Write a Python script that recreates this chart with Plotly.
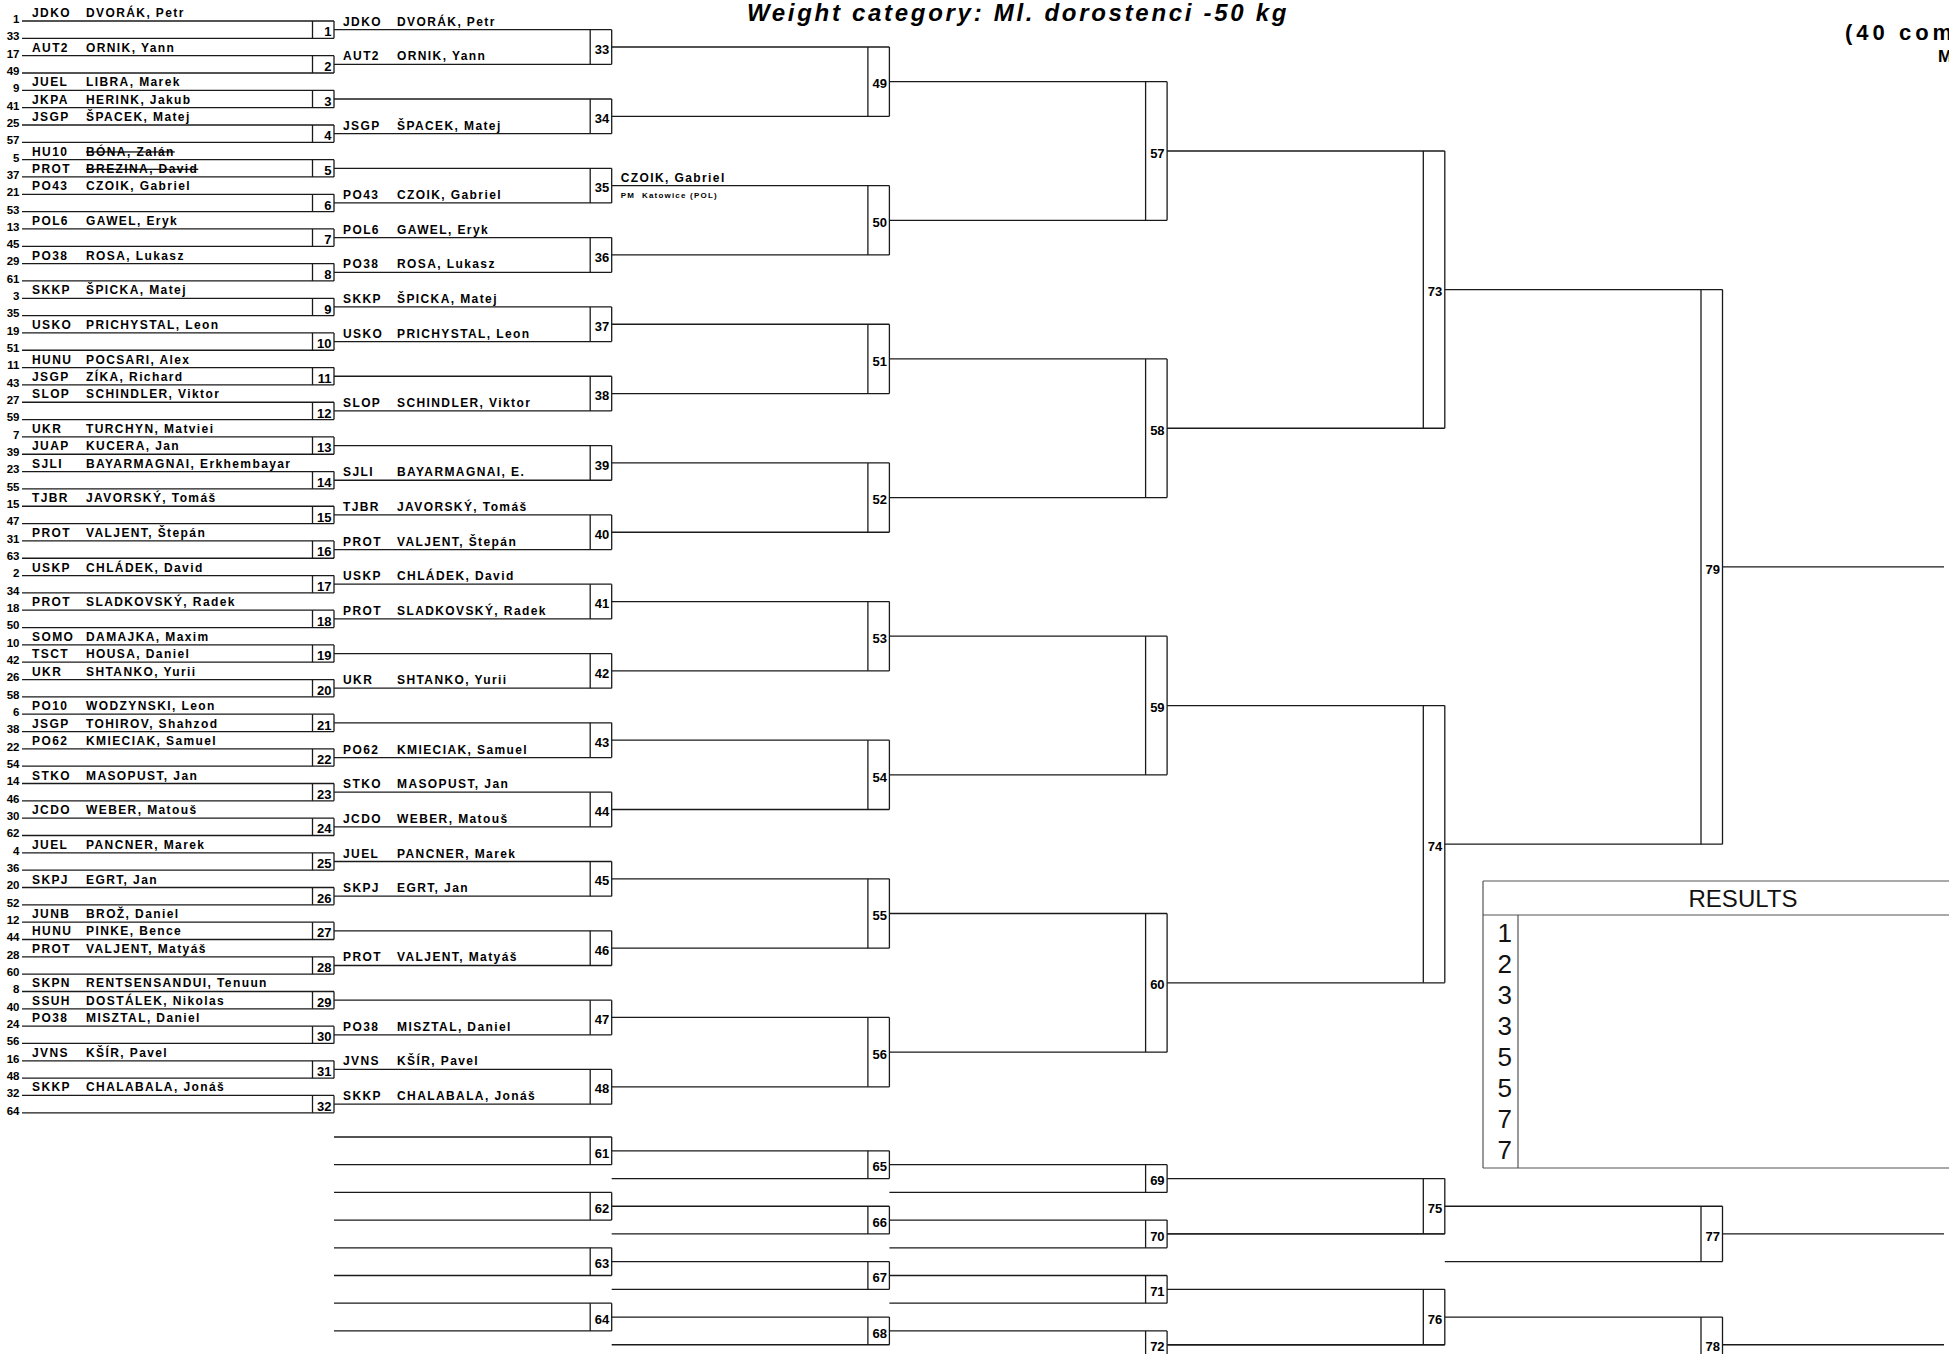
import plotly.graph_objects as go

# ---------------- data ----------------
TITLE = "Weight category: Ml. dorostenci -50 kg"
HEADER_RIGHT = "(40 competitors)"
HEADER_RIGHT2 = "M"
RESULTS_TITLE = "RESULTS"

r1_seeds = [1, 33, 17, 49, 9, 41, 25, 57, 5, 37, 21, 53, 13, 45, 29, 61,
            3, 35, 19, 51, 11, 43, 27, 59, 7, 39, 23, 55, 15, 47, 31, 63,
            2, 34, 18, 50, 10, 42, 26, 58, 6, 38, 22, 54, 14, 46, 30, 62,
            4, 36, 20, 52, 12, 44, 28, 60, 8, 40, 24, 56, 16, 48, 32, 64]
r1_clubs = ["JDKO", "", "AUT2", "", "JUEL", "JKPA", "JSGP", "", "HU10", "PROT", "PO43", "", "POL6", "", "PO38", "",
            "SKKP", "", "USKO", "", "HUNU", "JSGP", "SLOP", "", "UKR", "JUAP", "SJLI", "", "TJBR", "", "PROT", "",
            "USKP", "", "PROT", "", "SOMO", "TSCT", "UKR", "", "PO10", "JSGP", "PO62", "", "STKO", "", "JCDO", "",
            "JUEL", "", "SKPJ", "", "JUNB", "HUNU", "PROT", "", "SKPN", "SSUH", "PO38", "", "JVNS", "", "SKKP", ""]
r1_names = ["DVORÁK, Petr", "", "ORNIK, Yann", "", "LIBRA, Marek", "HERINK, Jakub", "ŠPACEK, Matej", "",
            "BÓNA, Zalán", "BREZINA, David", "CZOIK, Gabriel", "", "GAWEL, Eryk", "", "ROSA, Lukasz", "",
            "ŠPICKA, Matej", "", "PRICHYSTAL, Leon", "", "POCSARI, Alex", "ZÍKA, Richard", "SCHINDLER, Viktor", "",
            "TURCHYN, Matviei", "KUCERA, Jan", "BAYARMAGNAI, Erkhembayar", "", "JAVORSKÝ, Tomáš", "", "VALJENT, Štepán", "",
            "CHLÁDEK, David", "", "SLADKOVSKÝ, Radek", "", "DAMAJKA, Maxim", "HOUSA, Daniel", "SHTANKO, Yurii", "",
            "WODZYNSKI, Leon", "TOHIROV, Shahzod", "KMIECIAK, Samuel", "", "MASOPUST, Jan", "", "WEBER, Matouš", "",
            "PANCNER, Marek", "", "EGRT, Jan", "", "BROŽ, Daniel", "PINKE, Bence", "VALJENT, Matyáš", "",
            "RENTSENSANDUI, Tenuun", "DOSTÁLEK, Nikolas", "MISZTAL, Daniel", "", "KŠÍR, Pavel", "", "CHALABALA, Jonáš", ""]
r1_withdrawn = [5, 37]

r2_clubs = ["JDKO", "AUT2", "", "JSGP", "", "PO43", "POL6", "PO38", "SKKP", "USKO", "", "SLOP", "", "SJLI", "TJBR", "PROT",
            "USKP", "PROT", "", "UKR", "", "PO62", "STKO", "JCDO", "JUEL", "SKPJ", "", "PROT", "", "PO38", "JVNS", "SKKP"]
r2_names = ["DVORÁK, Petr", "ORNIK, Yann", "", "ŠPACEK, Matej", "", "CZOIK, Gabriel", "GAWEL, Eryk", "ROSA, Lukasz",
            "ŠPICKA, Matej", "PRICHYSTAL, Leon", "", "SCHINDLER, Viktor", "", "BAYARMAGNAI, E.", "JAVORSKÝ, Tomáš", "VALJENT, Štepán",
            "CHLÁDEK, David", "SLADKOVSKÝ, Radek", "", "SHTANKO, Yurii", "", "KMIECIAK, Samuel", "MASOPUST, Jan", "WEBER, Matouš",
            "PANCNER, Marek", "EGRT, Jan", "", "VALJENT, Matyáš", "", "MISZTAL, Daniel", "KŠÍR, Pavel", "CHALABALA, Jonáš"]

r3_names = ["", "", "CZOIK, Gabriel", "", "", "", "", "", "", "", "", "", "", "", "", ""]
r3_teams = ["", "", "PM  Katowice (POL)", "", "", "", "", "", "", "", "", "", "", "", "", ""]

main_matches = [list(range(1, 33)), list(range(33, 49)), list(range(49, 57)),
                list(range(57, 61)), [73, 74], [79]]
rep_matches = [[61, 62, 63, 64], [65, 66, 67, 68], [69, 70, 71, 72], [75, 76], [77, 78]]

results_places = ["1", "2", "3", "3", "5", "5", "7", "7"]

# ---------------- layout constants ----------------
W, H = 1949, 1354
X0 = 22.0             # start of first-round lines
R0 = 334.0            # right edge of first column of boxes
PITCH = 277.7         # column pitch
BW = 21.5             # box width
Y0 = 21.0             # first line y
DY = 17.33            # line spacing
XEND = 1944.0
RB = 1137.0           # repechage first line
RU = 27.7             # repechage spacing
R = [R0 + PITCH * c for c in range(6)]

FONT = "Liberation Sans, Arial, sans-serif"
LS = "letter-spacing:1.4px"
LINE_COLOR = "#1a1a1a"

xs, ys = [], []


def seg(x0, y0, x1, y1):
    xs.extend([x0, x1, None])
    ys.extend([y0, y1, None])


box_x, box_y, box_t = [], [], []


def box(c, yt, yb, num):
    seg(R[c] - BW, yt, R[c] - BW, yb)
    seg(R[c], yt, R[c], yb)
    box_x.append(R[c] - 2.5)
    box_y.append((yt + yb) / 2 + 3.4)
    box_t.append(str(num))


# main bracket
col_y = []
for c in range(6):
    n = 64 >> c
    span = 1 << c
    start = X0 if c == 0 else R[c - 1]
    yl = [Y0 + DY * (i * span + (span - 1) / 2) for i in range(n)]
    col_y.append(yl)
    for y in yl:
        seg(start, y, R[c], y)
    for j in range(n // 2):
        box(c, yl[2 * j], yl[2 * j + 1], main_matches[c][j])
yf = Y0 + DY * 31.5
seg(R[5], yf, XEND, yf)


# repechage
def rk(k):
    return RB + RU * k


rep_cols = [1, 2, 3, 4, 5]
prev_out = None
for r, matches in enumerate(rep_matches):
    c = rep_cols[r]
    outs = []
    for m, num in enumerate(matches):
        if r == 0:
            a, b = 2 * m, 2 * m + 1
        elif r in (1, 2):
            a, b = prev_out[m], prev_out[m] + 1
        elif r == 3:
            a, b = prev_out[2 * m], prev_out[2 * m + 1]
        else:
            a, b = prev_out[m], prev_out[m] + 2
        if r == 0:
            seg(R[c - 1], rk(a), R[c], rk(a))
        seg(R[c - 1], rk(b), R[c], rk(b))
        box(c, rk(a), rk(b), num)
        outs.append((a + b) / 2)
    for o in outs:
        if r == len(rep_matches) - 1:
            seg(R[c], rk(o), XEND, rk(o))
        else:
            seg(R[c], rk(o), R[c + 1], rk(o))
    prev_out = outs

fig = go.Figure()
fig.add_trace(go.Scatter(x=xs, y=ys, mode="lines", line=dict(color=LINE_COLOR, width=1.3),
                         hoverinfo="skip", showlegend=False))

# results box
rx0, rx1, ry0, ryh, ry1, rdiv = 1483, 2003, 881, 915, 1168, 1518
res_x = [rx0, rx1, None, rx0, rx1, None, rx0, rx1, None, rx0, rx0, None, rdiv, rdiv]
res_y = [ry0, ry0, None, ryh, ryh, None, ry1, ry1, None, ry0, ry1, None, ryh, ry1]
fig.add_trace(go.Scatter(x=res_x, y=res_y, mode="lines", line=dict(color="#555", width=1.2),
                         hoverinfo="skip", showlegend=False))


def text_trace(x, y, t, pos, size, weight="bold", color="black", style="normal"):
    fig.add_trace(go.Scatter(x=x, y=y, text=t, mode="text", textposition=pos,
                             textfont=dict(family=FONT, size=size, color=color, weight=weight, style=style),
                             hoverinfo="skip", showlegend=False))


# seed numbers
text_trace([19.5] * 64, [y - 1 for y in col_y[0]], [str(s) for s in r1_seeds], "middle left", 11.5)

# round 1 clubs / names
cx, cy, ct, nx, ny, nt = [], [], [], [], [], []
for i, y in enumerate(col_y[0]):
    if r1_clubs[i]:
        cx.append(X0 + 10); cy.append(y - 7); ct.append(f"<span style='{LS}'>{r1_clubs[i]}</span>")
    if r1_names[i]:
        nm = r1_names[i]
        if r1_seeds[i] in r1_withdrawn:
            nm = f"<s>{nm}</s>"
        nx.append(X0 + 64); ny.append(y - 7); nt.append(f"<span style='{LS}'>{nm}</span>")
# round 2
for i, y in enumerate(col_y[1]):
    if r2_clubs[i]:
        cx.append(R[0] + 9); cy.append(y - 7); ct.append(f"<span style='{LS}'>{r2_clubs[i]}</span>")
    if r2_names[i]:
        nx.append(R[0] + 63); ny.append(y - 7); nt.append(f"<span style='{LS}'>{r2_names[i]}</span>")
text_trace(cx, cy, ct, "middle right", 12)
text_trace(nx, ny, nt, "middle right", 12)

# round 3
tx, ty, tt, sx, sy, st = [], [], [], [], [], []
for i, y in enumerate(col_y[2]):
    if r3_names[i]:
        tx.append(R[1] + 9); ty.append(y - 7); tt.append(f"<span style='{LS}'>{r3_names[i]}</span>")
    if r3_teams[i]:
        sx.append(R[1] + 9); sy.append(y + 10); st.append(f"<span style='letter-spacing:1.2px'>{r3_teams[i]}</span>")
text_trace(tx, ty, tt, "middle right", 12)
text_trace(sx, sy, st, "middle right", 8)

# box numbers
text_trace(box_x, box_y, box_t, "middle left", 13)

# title and header
text_trace([1018], [15], [f"<span style='letter-spacing:2.7px'>{TITLE}</span>"], "middle center", 24, style="italic")
text_trace([1845], [34], [f"<span style='letter-spacing:4px'>{HEADER_RIGHT}</span>"], "middle right", 22)
text_trace([1938], [58], [HEADER_RIGHT2], "middle right", 17)

# results
text_trace([1743], [900.6], [RESULTS_TITLE], "middle center", 24, weight="normal", color="#111")
text_trace([1512] * len(results_places), [933 + 30.9 * i + 2.8 for i in range(len(results_places))],
           results_places, "middle left", 26, weight="normal", color="#111")

fig.update_layout(
    width=W, height=H, margin=dict(l=0, r=0, t=0, b=0),
    paper_bgcolor="white", plot_bgcolor="white", showlegend=False,
    xaxis=dict(range=[0, W], visible=False, fixedrange=True),
    yaxis=dict(range=[H, 0], visible=False, fixedrange=True),
)

fig.write_html("out.html", config={"displayModeBar": False},
               post_script="document.body.style.margin='0px';document.body.style.overflow='hidden';")
